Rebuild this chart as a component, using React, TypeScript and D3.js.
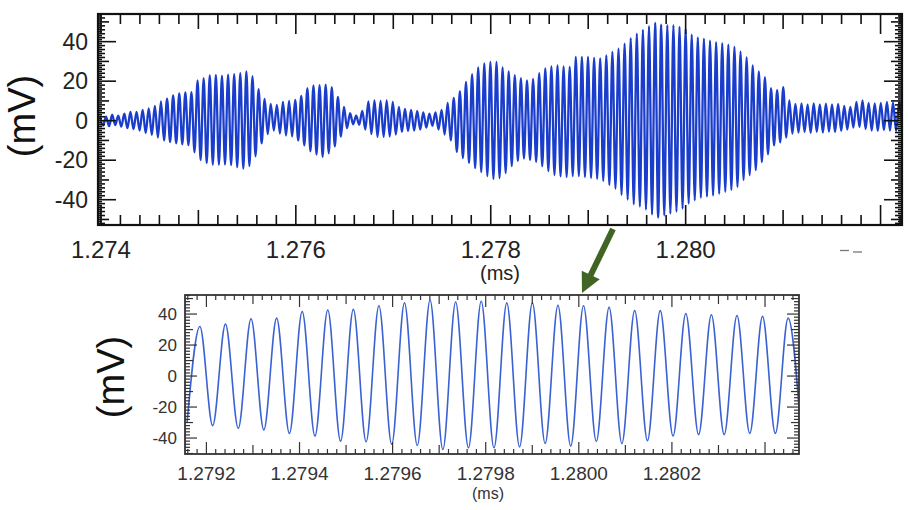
import React from "react";
import * as d3 from "d3";

// ---- Overview trace: one positive crest and one negative trough per carrier cycle (mV)
const overviewStart = 1.27399; // time of first crest (ms)
const overviewPeriod = 0.0000626; // carrier period (ms)
const overviewCrests = [
  2.5, 2, 3, 2.5, 3.5, 4.4, 4.5, 5.5, 6.2, 7.5,
  9.8, 11.2, 12.8, 13.8, 14.3, 14.5, 20.4, 21.5, 23, 23.2,
  22.8, 23.3, 23.5, 24, 25, 22.5, 16, 11, 8.5, 8,
  9.5, 10, 10.5, 12.5, 16.5, 17.9, 18, 18.2, 17, 12,
  7, 3.8, 2.5, 5, 9.8, 10.3, 10, 10.3, 9.5, 7,
  6, 5.5, 5, 4.2, 3.5, 4.2, 5.5, 9, 11.5, 15,
  19.6, 23.5, 27, 29, 29.7, 29.7, 27, 25, 23, 21.5,
  20.4, 21.2, 24, 26.5, 27.5, 28, 27.5, 27.2, 32.3, 32.3,
  32.3, 31.8, 31.5, 33, 34.8, 36.5, 39, 41.8, 44, 46,
  47.8, 49.5, 48.6, 48.3, 48.3, 47.5, 46.5, 43.5, 42.2, 41.5,
  40.5, 39.8, 39.2, 38.5, 37.3, 35, 32, 28, 25, 22,
  16.5, 15.5, 17, 10.3, 8.5, 8.8, 8.3, 8.7, 8.2, 8.6,
  8.3, 8.5, 7.5, 7, 9.5, 10.3, 9, 8.8, 9, 9.5,
  9.3, 9.5,
];
const overviewTroughs = [
  -2.5, -2.8, -2.2, -3, -3.8, -4.3, -5, -6.3, -7.2, -8.5,
  -10, -10.8, -11.5, -12, -12.4, -16, -20, -21.5, -22.3, -22.3,
  -22.2, -22.5, -23.5, -24.3, -23, -18, -11.5, -6.8, -5, -6.5,
  -7.5, -8, -10, -12.5, -15.5, -17.2, -18.4, -16.5, -13, -8,
  -3.8, -1.8, -2, -4.5, -6.8, -8.2, -8.2, -8, -7, -5.7,
  -5.3, -5, -4.5, -3.5, -2.6, -4.5, -7, -10, -15.8, -19,
  -21.5, -24, -26, -28, -29.5, -29, -26.5, -23, -20.5, -19.2,
  -20, -20.9, -23, -25.5, -27.5, -28.2, -28.5, -28, -28, -28.5,
  -29, -29.4, -30.5, -32.5, -34.4, -37.5, -40, -42.3, -43.5, -45,
  -47.5, -49, -48, -47, -46, -44.5, -42, -40.3, -39, -38.4,
  -37.9, -37, -36, -35, -33.5, -30, -27.5, -25, -21, -17,
  -12.5, -11, -8.5, -6.5, -6, -5.8, -6.2, -5.7, -6, -5.5,
  -5.8, -5.2, -4.5, -3.5, -3.2, -4.2, -5, -5.2, -4.8, -5,
  -5.2, -5,
];
const overviewTimeLabels = [1.274, 1.276, 1.278, 1.28];
const overviewVoltLabels = [-40, -20, 0, 20, 40];

// ---- Expanded trace around 1.2797 ms
const detailFirstCrest = 1.279186; // ms
const detailPeriod = 0.00005494; // ms
const detailLead = -30; // trough just before the first crest
const detailCrests = [
  32, 33.5, 37, 37.4, 41.7, 42.6, 43, 45.4, 47.2, 49,
  47.8, 48.3, 47.2, 47.2, 45.6, 45.4, 44.3, 42.2, 42.2, 40.4,
  39.6, 39.1, 38.5, 37.4,
];
const detailTroughs = [
  -32, -33.7, -34.8, -37, -38.7, -42, -42.4, -44, -44.8, -47.4,
  -46.3, -46.3, -45.7, -43.5, -45.2, -42.2, -43.5, -41.7, -38.7, -37.8,
  -37.8, -37, -37,
];
const detailTrail = -36;
const detailTimeLabels = [1.2792, 1.2794, 1.2796, 1.2798, 1.28, 1.2802];
const detailVoltLabels = [-40, -20, 0, 20, 40];

const FONT = "'Liberation Sans', Arial, Helvetica, sans-serif";

type Pt = [number, number];

function overviewPoints(): Pt[] {
  const pts: Pt[] = [];
  overviewCrests.forEach((v, i) => {
    pts.push([overviewStart + i * overviewPeriod, v]);
    if (i < overviewTroughs.length)
      pts.push([overviewStart + (i + 0.5) * overviewPeriod, overviewTroughs[i]]);
  });
  return pts;
}

function detailPoints(): Pt[] {
  const pts: Pt[] = [[detailFirstCrest - 0.5 * detailPeriod, detailLead]];
  detailCrests.forEach((v, i) => {
    pts.push([detailFirstCrest + i * detailPeriod, v]);
    if (i < detailTroughs.length)
      pts.push([detailFirstCrest + (i + 0.5) * detailPeriod, detailTroughs[i]]);
  });
  pts.push([detailFirstCrest + (detailCrests.length - 0.5) * detailPeriod, detailTrail]);
  return pts;
}

type TickSpec = { v: number; len: number };

function tickSet(domain: number[], step: number, lenOf: (k: number) => number): TickSpec[] {
  const lo = Math.ceil(Math.min(domain[0], domain[1]) / step - 1e-6);
  const hi = Math.floor(Math.max(domain[0], domain[1]) / step + 1e-6);
  return d3.range(lo, hi + 1).map((k) => ({ v: k * step, len: lenOf(k) }));
}

type PanelProps = {
  id: string;
  x: d3.ScaleLinear<number, number>;
  y: d3.ScaleLinear<number, number>;
  data: Pt[];
  lineColor: string;
  lineWidth: number;
  xTicks: TickSpec[];
  yTicks: TickSpec[];
  frameWidth: number;
  frameColor: string;
  tickWidth: number;
};

function Panel(p: PanelProps) {
  const [x0, x1] = p.x.range();
  const [y0, y1] = p.y.range(); // y0 bottom, y1 top
  const line = d3
    .line<Pt>()
    .x((d) => p.x(d[0]))
    .y((d) => p.y(d[1]))
    .curve(d3.curveMonotoneX);
  return (
    <g>
      <defs>
        <clipPath id={p.id}>
          <rect x={x0} y={y1} width={x1 - x0} height={y0 - y1} />
        </clipPath>
      </defs>
      <path
        d={line(p.data) || ""}
        fill="none"
        stroke={p.lineColor}
        strokeWidth={p.lineWidth}
        strokeLinejoin="round"
        clipPath={`url(#${p.id})`}
      />
      <g stroke={p.frameColor} strokeWidth={p.tickWidth}>
        {p.xTicks.map((t, i) => {
          const xx = p.x(t.v);
          return (
            <g key={"x" + i}>
              <line x1={xx} x2={xx} y1={y0} y2={y0 - t.len} />
              <line x1={xx} x2={xx} y1={y1} y2={y1 + t.len} />
            </g>
          );
        })}
        {p.yTicks.map((t, i) => {
          const yy = p.y(t.v);
          return (
            <g key={"y" + i}>
              <line x1={x0} x2={x0 + t.len} y1={yy} y2={yy} />
              <line x1={x1} x2={x1 - t.len} y1={yy} y2={yy} />
            </g>
          );
        })}
      </g>
      <rect
        x={x0}
        y={y1}
        width={x1 - x0}
        height={y0 - y1}
        fill="none"
        stroke={p.frameColor}
        strokeWidth={p.frameWidth}
      />
    </g>
  );
}

export default function App() {
  // overview panel scales
  const xTop = d3.scaleLinear().domain([1.27397, 1.28222]).range([98, 902]);
  const yTop = d3.scaleLinear().domain([-52.8, 54]).range([225, 14]);
  // expanded panel scales
  const xBot = d3.scaleLinear().domain([1.279154, 1.280473]).range([185, 799]);
  const yBot = d3.scaleLinear().domain([-50.3, 52.3]).range([454, 295]);

  const topXTicks = tickSet(xTop.domain(), 0.0002, (k) => (k % 10 === 0 ? 20 : k % 5 === 0 ? 15 : 10));
  const topYTicks = tickSet(yTop.domain(), 1, (k) =>
    k % 20 === 0 ? 18 : k % 10 === 0 ? 11 : k % 2 === 0 ? 7 : 4
  );
  const botXTicks = tickSet(xBot.domain(), 0.00002, (k) => (k % 10 === 0 ? 12 : k % 5 === 0 ? 9 : 5));
  const botYTicks = tickSet(yBot.domain(), 2, (k) => (k % 10 === 0 ? 12 : k % 5 === 0 ? 8 : 5));

  const fmt3 = d3.format(".3f");
  const fmt4 = d3.format(".4f");

  // arrow between the panels
  const aStart: Pt = [613, 229];
  const aTip: Pt = [582, 293];
  const dx = aTip[0] - aStart[0];
  const dy = aTip[1] - aStart[1];
  const L = Math.hypot(dx, dy);
  const ux = dx / L;
  const uy = dy / L;
  const headLen = 20;
  const headHalf = 10;
  const bx = aTip[0] - ux * headLen;
  const by = aTip[1] - uy * headLen;
  const head = `M${aTip[0]},${aTip[1]} L${bx - uy * headHalf},${by + ux * headHalf} L${bx + uy * headHalf},${by - ux * headHalf} Z`;

  return (
    <svg
      width={910}
      height={510}
      style={{ position: "absolute", left: 0, top: 0, background: "#fff" }}
      fontFamily={FONT}
    >
      <rect x={0} y={0} width={910} height={510} fill="#fff" />

      {/* overview panel */}
      <Panel
        id="clip-top"
        x={xTop}
        y={yTop}
        data={overviewPoints()}
        lineColor="#1a3dcc"
        lineWidth={2.3}
        xTicks={topXTicks}
        yTicks={topYTicks}
        frameWidth={2.2}
        frameColor="#111"
        tickWidth={1.6}
      />
      {overviewVoltLabels.map((v) => (
        <text key={"ty" + v} x={88} y={yTop(v)} dy="0.36em" textAnchor="end" fontSize={23} fill="#222">
          {v}
        </text>
      ))}
      {overviewTimeLabels.map((v) => (
        <text key={"tx" + v} x={xTop(v)} y={258} textAnchor="middle" fontSize={24} fill="#222">
          {fmt3(v)}
        </text>
      ))}
      <text x={500} y={280} textAnchor="middle" fontSize={20} fill="#222">
        (ms)
      </text>
      <text
        transform={`translate(35,116) rotate(-90)`}
        textAnchor="middle"
        fontSize={38}
        fill="#111"
      >
        (mV)
      </text>

      {/* small dashes at right of the overview axis */}
      <line x1={840} x2={849} y1={250.5} y2={250.5} stroke="#777" strokeWidth={1.3} />
      <line x1={853} x2={862} y1={252} y2={252} stroke="#777" strokeWidth={1.3} />

      {/* arrow */}
      <line x1={aStart[0]} y1={aStart[1]} x2={bx + ux * 2} y2={by + uy * 2} stroke="#3f6424" strokeWidth={6} />
      <path d={head} fill="#3f6424" />

      {/* expanded panel */}
      <Panel
        id="clip-bot"
        x={xBot}
        y={yBot}
        data={detailPoints()}
        lineColor="#3a62d2"
        lineWidth={1.6}
        xTicks={botXTicks}
        yTicks={botYTicks}
        frameWidth={1.8}
        frameColor="#333"
        tickWidth={1.2}
      />
      {detailVoltLabels.map((v) => (
        <text key={"by" + v} x={177} y={yBot(v)} dy="0.36em" textAnchor="end" fontSize={17} fill="#333">
          {v}
        </text>
      ))}
      {detailTimeLabels.map((v) => (
        <text key={"bx" + v} x={xBot(v)} y={480} textAnchor="middle" fontSize={19} fill="#333">
          {fmt4(v)}
        </text>
      ))}
      <text x={488} y={499} textAnchor="middle" fontSize={16} fill="#333">
        (ms)
      </text>
      <text
        transform={`translate(124,377) rotate(-90)`}
        textAnchor="middle"
        fontSize={38}
        fill="#111"
      >
        (mV)
      </text>
    </svg>
  );
}
